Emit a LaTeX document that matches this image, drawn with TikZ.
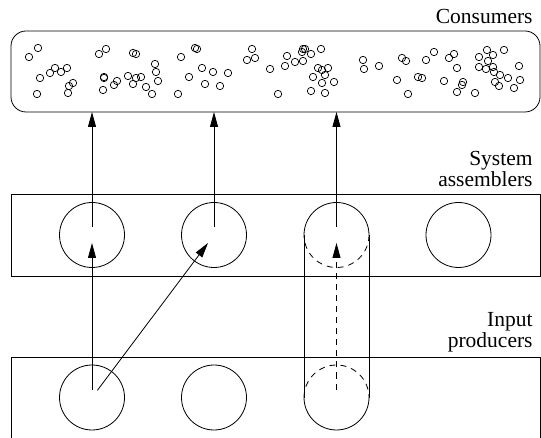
\documentclass[tikz,border=0pt]{standalone}
\usepackage{fontspec}
\setmainfont{Liberation Serif}
\usetikzlibrary{arrows.meta}

\begin{document}
\begin{tikzpicture}[x=1pt, y=-1pt, line width=0.8pt,
  unit/.style={circle, draw, minimum size=65pt, inner sep=0pt, outer sep=0pt},
  band/.style={draw, minimum width=529pt, minimum height=82pt, inner sep=0pt, outer sep=0pt},
  arr/.style={-{Triangle[length=15pt,width=8pt]}},
  dash6/.style={dash pattern=on 6pt off 5pt},
  lbl/.style={align=right, inner sep=0pt, font=\fontsize{21.5}{21}\selectfont}]
\useasboundingbox (0,0) rectangle (541,438);

% the three layers
\node [band, rounded corners=15pt, minimum height=81pt] (cons) at (275.5,71.5) {};
\node [band] (asm) at (275.5,235) {};
\node [band, minimum height=100pt, anchor=north] (prod) at (275.5,357) {};

\node [lbl, anchor=base east] (conslbl) at (533,23.5) {Consumers};
\node [lbl, anchor=north east] (asmlbl) at (533,151) {System\\assemblers};
\node [lbl, anchor=north east] (prodlbl) at (533,312) {Input\\producers};

% consumers
\foreach \x/\y in {29/57,38/48,40/78,50/73,55/68,61/72,67/68,69/86,73/83,68/93,37/94,
  99/54,106/49,133/53,136/54,104/77,104/78,103/90,114/85,117/81,128/76,133/84,136/78,
  141/77,146/87,152/94,155/64,156/72,158/81,
  181/57,195/48,197/49,189/77,178/94,202/68,213/72,205/84,220/86,228/73,
  252/49,247/60,255/58,270/69,278/94,
  287/56,285/66,295/62,302/52,303/49,305/49,303/61,311/54,321/49,318/68,322/70,328/68,
  313/77,325/75,322/83,334/82,311/91,325/93,
  363/60,364/69,379/66,402/58,406/61,397/80,408/94,418/77,422/78,426/60,434/52,449/58,
  454/54,457/68,444/81,462/85,463/82,457/92,475/93,
  479/57,487/50,493/55,504/50,488/61,479/67,486/69,493/67,494/72,500/75,508/78,519/66,
  520/80,514/88,495/82,499/86}
  \draw [line width=0.7pt] (\x,\y) circle [radius=3.7pt];

% assemblers and producers
\node [unit] (a1) at (92,235) {};
\node [unit] (a2) at (214,235) {};
\node [unit, draw=none] (a3) at (336.5,235) {};
\node [unit] (a4) at (458.5,235) {};
\node [unit] (p1) at (92,397.5) {};
\node [unit] (p2) at (214,397.5) {};
\node [unit, draw=none] (p3) at (336.5,397.5) {};

% merged unit
\draw (a3.west) arc [start angle=180, end angle=0, radius=32.5pt];
\draw [dash6] (a3.east) arc [start angle=0, end angle=-180, radius=32.5pt];
\draw (a3.west) -- (p3.west);
\draw (a3.east) -- (p3.east);
\draw [dash6] (p3.west) arc [start angle=180, end angle=0, radius=32.5pt];
\draw (p3.east) arc [start angle=0, end angle=-180, radius=32.5pt];

% flows
\draw [arr, shorten <=8pt] (a1.center) -- (a1.center |- cons.south);
\draw [arr, shorten <=8pt] (a2.center) -- (a2.center |- cons.south);
\draw [arr, shorten <=8pt] (a3.center) -- (a3.center |- cons.south);
\draw [arr, shorten <=8pt, shorten >=8pt] (p1.center) -- (a1.center);
\draw [arr, shorten <=9pt, shorten >=10pt] (p1.center) -- (a2.center);
\draw [arr, dash6, shorten <=8pt, shorten >=8pt] (p3.center) -- (a3.center);
\end{tikzpicture}
\end{document}
